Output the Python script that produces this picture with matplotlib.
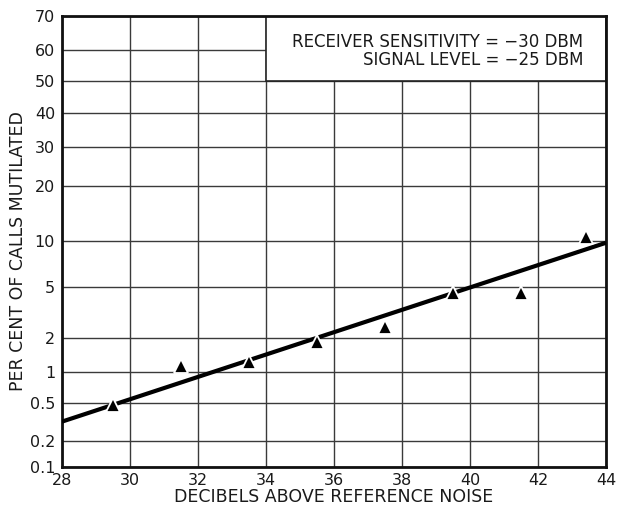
import math
import numpy as np
import matplotlib
matplotlib.use("Agg")
import matplotlib.pyplot as plt
from matplotlib.patches import Rectangle

# Measured points
db_above_noise = [29.5, 31.5, 33.5, 35.5, 37.5, 39.5, 41.5, 43.4]
pct_mutilated = [0.47, 1.12, 1.22, 1.85, 2.45, 4.5, 4.5, 10.6]

# Fitted line end points
fit_db = [28, 44]
fit_pct = [0.32, 9.8]

x_ticks = [28, 30, 32, 34, 36, 38, 40, 42, 44]
y_ticks = [0.1, 0.2, 0.5, 1, 2, 5, 10, 20, 30, 40, 50, 60, 70]
y_tick_labels = ["0.1", "0.2", "0.5", "1", "2", "5", "10", "20", "30", "40", "50", "60", "70"]


# Normal probability (probit) scale for per cent values
_A = [-3.969683028665376e+01, 2.209460984245205e+02, -2.759285104469687e+02,
      1.383577518672690e+02, -3.066479806614716e+01, 2.506628277459239e+00]
_B = [-5.447609879822406e+01, 1.615858368580409e+02, -1.556989798598866e+02,
      6.680131188771972e+01, -1.328068155288572e+01]
_C = [-7.784894002430293e-03, -3.223964580411365e-01, -2.400758277161838e+00,
      -2.549732539343734e+00, 4.374664141464968e+00, 2.938163982698783e+00]
_D = [7.784695709041462e-03, 3.224671290700398e-01, 2.445134137142996e+00,
      3.754408661907416e+00]


def norm_ppf(p):
    p = np.clip(np.asarray(p, dtype=float), 1e-12, 1 - 1e-12)
    plow = 0.02425
    q = p - 0.5
    r = q * q
    central = ((((((_A[0]*r + _A[1])*r + _A[2])*r + _A[3])*r + _A[4])*r + _A[5]) * q /
               (((((_B[0]*r + _B[1])*r + _B[2])*r + _B[3])*r + _B[4])*r + 1))
    ql = np.sqrt(-2 * np.log(p))
    lower = ((((((_C[0]*ql + _C[1])*ql + _C[2])*ql + _C[3])*ql + _C[4])*ql + _C[5]) /
             ((((_D[0]*ql + _D[1])*ql + _D[2])*ql + _D[3])*ql + 1))
    qu = np.sqrt(-2 * np.log(1 - p))
    upper = -((((((_C[0]*qu + _C[1])*qu + _C[2])*qu + _C[3])*qu + _C[4])*qu + _C[5]) /
              ((((_D[0]*qu + _D[1])*qu + _D[2])*qu + _D[3])*qu + 1))
    return np.where(p < plow, lower, np.where(p > 1 - plow, upper, central))


_erf = np.vectorize(math.erf)


def pct_to_z(v):
    return norm_ppf(np.asarray(v, dtype=float) / 100.0)


def z_to_pct(z):
    return 50.0 * (1.0 + _erf(np.asarray(z, dtype=float) / math.sqrt(2)))


plt.rcParams["font.family"] = "DejaVu Sans"
ink = "#1a1a1a"

fig = plt.figure(figsize=(6.18, 5.07), dpi=100)
ax = fig.add_axes([62 / 618, 1 - 467 / 507, 544 / 618, 451 / 507])
ax.set_yscale("function", functions=(pct_to_z, z_to_pct))
ax.set_xlim(28, 44)
ax.set_ylim(0.1, 70)

ax.set_xticks(x_ticks)
ax.set_xticklabels([str(t) for t in x_ticks])
ax.set_yticks(y_ticks)
ax.set_yticklabels(y_tick_labels)
ax.minorticks_off()
ax.tick_params(length=0, labelsize=11.5, colors=ink)
ax.tick_params(axis="x", pad=4)
ax.tick_params(axis="y", pad=5)

ax.grid(True, color="#3a3a3a", linewidth=1.0)
ax.set_axisbelow(True)
for s in ax.spines.values():
    s.set_linewidth(2.0)
    s.set_color("#111111")

# Note box in the upper right corner
box = Rectangle((34, 50), 10, 20, facecolor="white", edgecolor="#222222",
                linewidth=1.2, zorder=2)
ax.add_patch(box)
ax.text(0.958, 0.943, "RECEIVER SENSITIVITY = \u221230 DBM", transform=ax.transAxes,
        ha="right", va="center", fontsize=12, color=ink, zorder=3)
ax.text(0.958, 0.902, "SIGNAL LEVEL = \u221225 DBM", transform=ax.transAxes,
        ha="right", va="center", fontsize=12, color=ink, zorder=3)

ax.plot(fit_db, fit_pct, color="black", linewidth=3, solid_capstyle="butt", zorder=4)
ax.plot(db_above_noise, pct_mutilated, linestyle="none", marker="^", markersize=10,
        color="black", markeredgecolor="white", markeredgewidth=1.3, zorder=5,
        clip_on=False)

ax.set_xlabel("DECIBELS ABOVE REFERENCE NOISE", fontsize=12.5, color=ink, va="center")
ax.xaxis.set_label_coords(0.5, -(496.5 - 467) / 451)
ax.set_ylabel("PER CENT OF CALLS MUTILATED", fontsize=12.5, color=ink, va="center")
ax.yaxis.set_label_coords(-(62 - 18) / 544, 0.5 - (251 - 241) / 451)

fig.savefig("out.png", dpi=100, facecolor="white")
